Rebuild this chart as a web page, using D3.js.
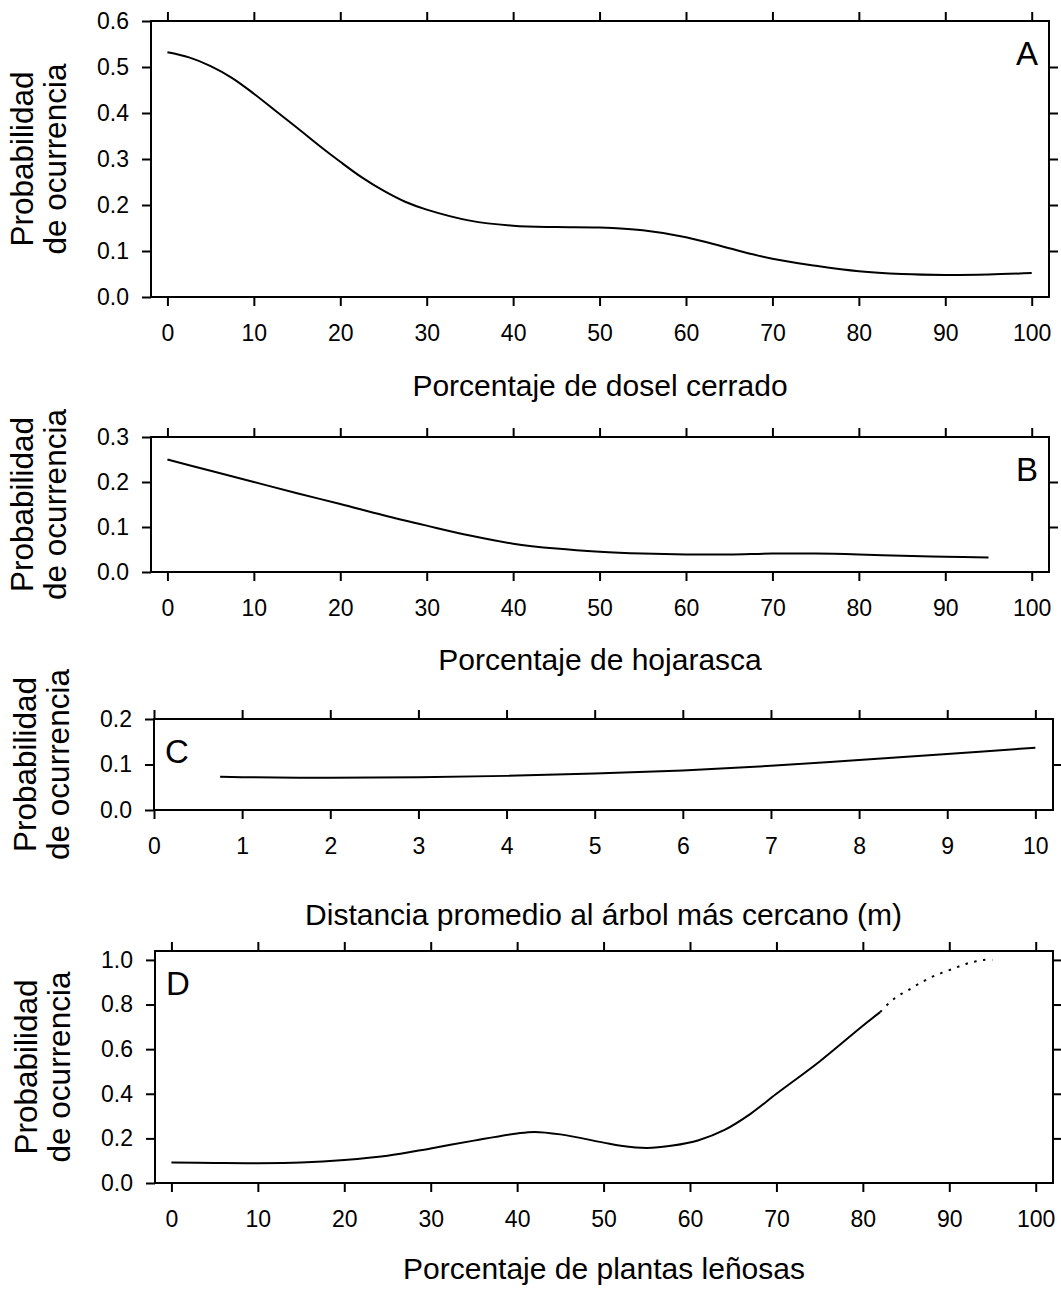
<!DOCTYPE html>
<html lang="es">
<head>
<meta charset="utf-8">
<title>Probabilidad de ocurrencia</title>
<script src="https://cdn.jsdelivr.net/npm/d3@7"></script>
<style>
  body { margin: 0; background: #fff; }
  text { font-family: "Liberation Sans", Arial, sans-serif; fill: #000; }
  .frame { fill: none; stroke: #000; stroke-width: 2px; }
  .curve { fill: none; stroke: #000; stroke-width: 2px; }
</style>
</head>
<body>
<div id="chart"></div>
<script>

// panel A: porcentaje de dosel cerrado
var doselX = [0, 2.5, 5, 7.5, 10, 12.5, 15, 17.5, 20, 22.5, 25, 27.5, 30, 35, 40, 45, 50, 55, 60, 65, 70, 75, 80, 85, 90, 95, 100];
var doselY = [0.532, 0.521, 0.502, 0.476, 0.442, 0.405, 0.368, 0.33, 0.294, 0.26, 0.231, 0.207, 0.19, 0.166, 0.155, 0.152, 0.151, 0.145, 0.13, 0.106, 0.083, 0.068, 0.056, 0.05, 0.048, 0.049, 0.052];

// panel B: porcentaje de hojarasca
var hojX = [0, 5, 10, 15, 20, 25, 30, 35, 40, 45, 50, 55, 60, 65, 70, 75, 80, 85, 90, 95];
var hojY = [0.25, 0.225, 0.2, 0.175, 0.151, 0.126, 0.103, 0.081, 0.063, 0.052, 0.045, 0.041, 0.039, 0.039, 0.041, 0.041, 0.039, 0.036, 0.034, 0.032];

// panel C: distancia al arbol mas cercano
var distX = [0.75, 1, 2, 3, 4, 5, 6, 7, 8, 9, 10];
var distY = [0.073, 0.072, 0.071, 0.072, 0.075, 0.08, 0.087, 0.097, 0.11, 0.123, 0.137];

// panel D: plantas lenosas (solid part + dotted tail)
var lenX = [0, 5, 10, 15, 20, 25, 30, 35, 40, 42, 45, 50, 52, 55, 58, 61, 64, 67, 70, 75, 80, 82];
var lenY = [0.092, 0.09, 0.089, 0.092, 0.103, 0.122, 0.155, 0.19, 0.222, 0.229, 0.218, 0.181, 0.167, 0.157, 0.168, 0.192, 0.238, 0.31, 0.40, 0.545, 0.705, 0.766];
var tailX = [82, 83, 84, 85, 86, 87, 88, 89, 90, 91, 92, 93, 94, 95];
var tailY = [0.766, 0.805, 0.837, 0.858, 0.882, 0.904, 0.924, 0.94, 0.954, 0.969, 0.983, 0.993, 1.0, 1.0];

// tick values
var pctTicks = [0, 10, 20, 30, 40, 50, 60, 70, 80, 90, 100];
var distTicks = [0, 1, 2, 3, 4, 5, 6, 7, 8, 9, 10];
var yTicksA = [0, 0.1, 0.2, 0.3, 0.4, 0.5, 0.6];
var yTicksB = [0, 0.1, 0.2, 0.3];
var yTicksC = [0, 0.1, 0.2];
var yTicksD = [0, 0.2, 0.4, 0.6, 0.8, 1.0];

var yLabel = ["Probabilidad", "de ocurrencia"];

var panels = [
    {letter: "A", letterSide: "right", series: [[doselX, doselY]], xTicks: pctTicks, yTicks: yTicksA,
     xDomain: [-1.9, 102], yDomain: [0, 0.6], box: {left: 151, right: 1049, top: 21, bottom: 297},
     title: "Porcentaje de dosel cerrado", titleGap: 99},
    {letter: "B", letterSide: "right", series: [[hojX, hojY]], xTicks: pctTicks, yTicks: yTicksB,
     xDomain: [-1.9, 102], yDomain: [0, 0.3], box: {left: 151, right: 1049, top: 437, bottom: 572},
     title: "Porcentaje de hojarasca", titleGap: 98},
    {letter: "C", letterSide: "left", series: [[distX, distY]], xTicks: distTicks, yTicks: yTicksC,
     xDomain: [0, 10.2], yDomain: [0, 0.2], box: {left: 154, right: 1053, top: 719, bottom: 810},
     title: "Distancia promedio al árbol más cercano (m)", titleGap: 115},
    {letter: "D", letterSide: "left", series: [[lenX, lenY]], tail: [tailX, tailY], xTicks: pctTicks, yTicks: yTicksD,
     xDomain: [-1.9, 102], yDomain: [0, 1.04], box: {left: 155, right: 1053, top: 951, bottom: 1183},
     title: "Porcentaje de plantas leñosas", titleGap: 96}
];

var svg = d3.select("#chart")
    .append("svg")
    .attr("width", 1061)
    .attr("height", 1289);

svg.append("rect")
    .attr("width", 1061)
    .attr("height", 1289)
    .attr("fill", "#fff");

function styleAxis(sel) {
    sel.attr("font-size", 23);
    sel.select(".domain").remove();
    sel.selectAll("line").attr("stroke-width", 2);
}

function drawPanel(p) {
    var b = p.box;
    var g = svg.append("g");

    var x = d3.scaleLinear().domain(p.xDomain).range([b.left, b.right]);
    var y = d3.scaleLinear().domain(p.yDomain).range([b.bottom, b.top]);

    // bottom axis with labels
    g.append("g")
        .attr("transform", "translate(0," + b.bottom + ")")
        .call(d3.axisBottom(x).tickValues(p.xTicks).tickSize(9).tickSizeOuter(0)
            .tickPadding(18.7).tickFormat(d3.format("d")))
        .call(styleAxis);

    // top axis, ticks only
    g.append("g")
        .attr("transform", "translate(0," + b.top + ")")
        .call(d3.axisTop(x).tickValues(p.xTicks).tickSize(9).tickSizeOuter(0).tickFormat(""))
        .call(styleAxis);

    // left axis
    g.append("g")
        .attr("transform", "translate(" + b.left + ",0)")
        .call(d3.axisLeft(y).tickValues(p.yTicks).tickSize(9).tickSizeOuter(0)
            .tickPadding(13).tickFormat(d3.format(".1f")))
        .call(styleAxis);

    // right axis, only ticks inside the frame
    var inner = p.yTicks.filter(function(v) { return v > p.yDomain[0] && v < p.yDomain[1]; });
    g.append("g")
        .attr("transform", "translate(" + b.right + ",0)")
        .call(d3.axisRight(y).tickValues(inner).tickSize(9).tickSizeOuter(0).tickFormat(""))
        .call(styleAxis);

    // frame
    g.append("rect")
        .attr("class", "frame")
        .attr("x", b.left)
        .attr("y", b.top)
        .attr("width", b.right - b.left)
        .attr("height", b.bottom - b.top);

    var line = d3.line()
        .x(function(d) { return x(d[0]); })
        .y(function(d) { return y(d[1]); })
        .curve(d3.curveCatmullRom.alpha(0.5));

    p.series.forEach(function(s) {
        var pts = s[0].map(function(v, i) { return [v, s[1][i]]; });
        g.append("path")
            .attr("class", "curve")
            .attr("d", line(pts));
    });

    if (p.tail) {
        var tpts = p.tail[0].map(function(v, i) { return [v, p.tail[1][i]]; });
        g.append("path")
            .attr("class", "curve")
            .attr("stroke-width", 2.5)
            .attr("stroke-dasharray", "2.5 6.5")
            .attr("d", line(tpts));
    }

    // panel letter
    g.append("text")
        .attr("x", p.letterSide == "right" ? b.right - 11 : b.left + 11)
        .attr("y", b.top + 44)
        .attr("text-anchor", p.letterSide == "right" ? "end" : "start")
        .style("font-size", "33px")
        .text(p.letter);

    // x axis title
    g.append("text")
        .attr("x", (b.left + b.right) / 2)
        .attr("y", b.bottom + p.titleGap)
        .attr("text-anchor", "middle")
        .style("font-size", "30px")
        .text(p.title);

    // y axis title, two lines
    var yt = g.append("g")
        .attr("transform", "translate(" + (b.left - 118) + "," + ((b.top + b.bottom) / 2) + ") rotate(-90)");
    yt.selectAll("text")
        .data(yLabel)
        .enter()
        .append("text")
        .attr("x", 0)
        .attr("y", function(d, i) { return i * 33; })
        .attr("text-anchor", "middle")
        .style("font-size", "31.5px")
        .text(function(d) { return d; });
}

panels.forEach(drawPanel);

</script>
</body>
</html>
